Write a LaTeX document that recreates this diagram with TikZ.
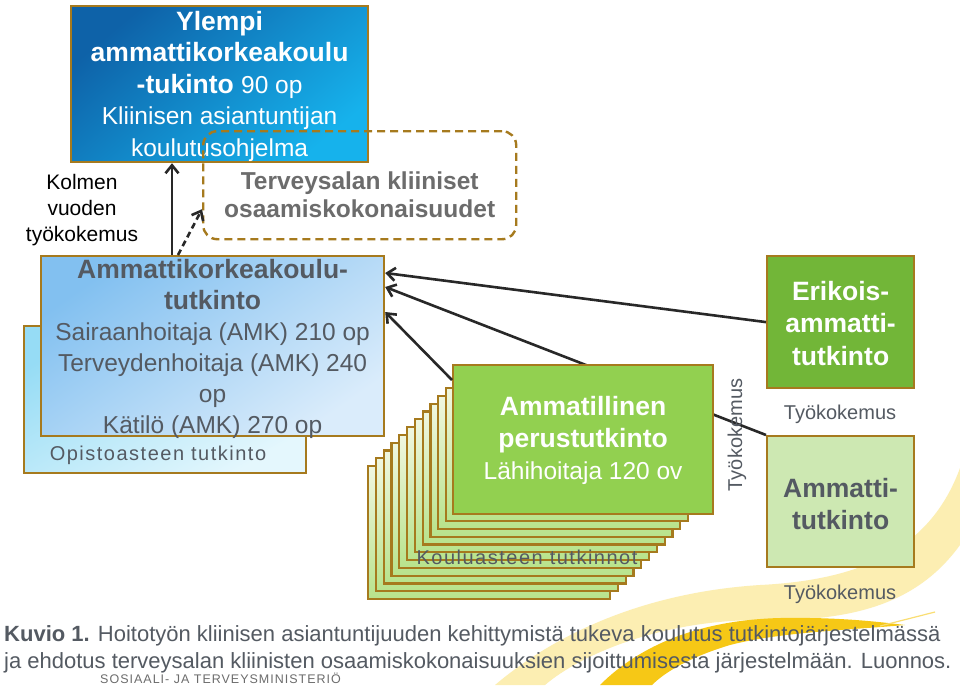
\documentclass[tikz,border=0pt]{standalone}
\usepackage{fontspec}
\setmainfont{Liberation Sans}
\usetikzlibrary{arrows.meta}
\definecolor{cRaja}{RGB}{166,122,30}
\definecolor{cYamkA}{RGB}{14,98,168}
\definecolor{cYamkB}{RGB}{22,178,236}
\definecolor{cOpistoA}{RGB}{150,220,245}
\definecolor{cOpistoB}{RGB}{228,247,253}
\definecolor{cAmkA}{RGB}{130,192,240}
\definecolor{cAmkB}{RGB}{218,236,251}
\definecolor{cKorttiA}{RGB}{240,247,224}
\definecolor{cKorttiB}{RGB}{184,227,140}
\definecolor{cPerus}{RGB}{146,208,80}
\definecolor{cErikois}{RGB}{114,182,56}
\definecolor{cAmmatti}{RGB}{205,232,178}
\definecolor{cTeksti}{RGB}{84,90,98}
\definecolor{cHarmaa}{RGB}{108,108,108}
\definecolor{cNuoli}{RGB}{40,40,40}
\definecolor{cKeltaVaalea}{RGB}{252,238,178}
\definecolor{cKelta}{RGB}{246,200,22}
\newcommand{\fnt}[2]{\fontsize{#1}{#2}\selectfont}
\newcommand{\lihava}{\fnt{26.5}{32}\bfseries}
\newcommand{\normaali}{\fnt{24.5}{32}\mdseries}
\tikzset{
  box/.style={
    rectangle, draw=cRaja, line width=2.2pt,
    anchor=north west, inner sep=0pt,
  },
  kortti/.style={
    box, top color=cKorttiA, bottom color=cKorttiB,
    minimum width=242pt, minimum height=133pt,
  },
  txt/.style={align=center, inner sep=0pt},
  pieni/.style={txt, text=cTeksti, font=\fnt{20}{24}},
  harva/.style={pieni, font=\fnt{20}{24}\addfontfeature{LetterSpace=7.5}},
  arr/.style={-{Straight Barb[length=8pt,width=13pt]}, line width=2.6pt, draw=cNuoli},
}

\begin{document}
\begin{tikzpicture}[x=1pt,y=-1pt]
\useasboundingbox (0,0) rectangle (960,685);
\fill[white] (0,0) rectangle (960,685);

% background swooshes
\fill[cKeltaVaalea] (495,685) .. controls (560,630) and (650,592) .. (760,585)
  .. controls (860,580) and (930,550) .. (960,468) -- (960,545)
  .. controls (920,600) and (860,622) .. (760,620)
  .. controls (660,620) and (580,655) .. (545,685) -- cycle;
\fill[cKelta] (600,685) .. controls (640,645) and (700,620) .. (780,618)
  .. controls (840,617) and (880,622) .. (905,625)
  .. controls (850,630) and (780,632) .. (730,645)
  .. controls (690,657) and (665,672) .. (652,685) -- cycle;
\draw[cKelta!60, line width=1.2pt] (880,626) -- (935,612);

% lower level degrees
\node[box, top color=cOpistoA, bottom color=cOpistoB, shading angle=30,
  minimum width=282pt, minimum height=147pt] (opisto) at (23,325) {};
\node[harva] (opistoteksti) at (158,455) {Opistoasteen tutkinto};

\node[box, top color=cAmkA, bottom color=cAmkB, shading angle=35,
  minimum width=343pt, minimum height=180pt] (amk) at (40,255) {};
\node[txt, text=cTeksti, font=\fnt{24.5}{31}] (amkteksti) at ([yshift=-3pt]amk.center)
  {\lihava Ammattikorkeakoulu-\\
   \lihava tutkinto\\
   Sairaanhoitaja (AMK) 210 op\\
   Terveydenhoitaja (AMK) 240\\
   op\\
   Kätilö (AMK) 270 op};

% master level
\node[box, top color=cYamkA, bottom color=cYamkB, shading angle=40,
  minimum width=297pt, minimum height=156pt] (yamk) at (70,5) {};
\node[txt, text=white, font=\fnt{24.5}{31.5}] (yamkteksti) at ([yshift=-2pt]yamk.center)
  {\lihava Ylempi\\
   \lihava ammattikorkeakoulu\\
   \lihava -tukinto \normaali 90 op\\
   Kliinisen asiantuntijan\\
   koulutusohjelma};

\node[box, dash pattern=on 8pt off 5pt, line width=2.4pt,
  rounded corners=14pt, minimum width=313pt, minimum height=108pt] (osaaminen) at (202,130) {};
\node[txt, text=cHarmaa, font=\fnt{24.5}{28}\bfseries] (osaamisteksti) at ([yshift=-10pt]osaaminen.center)
  {Terveysalan kliiniset\\ osaamiskokonaisuudet};

\node[txt, text=black, font=\fnt{21}{26}] (kolmen) at (82,210)
  {Kolmen\\ vuoden\\ työkokemus};

\coordinate (nuolix) at (172,0);
\coordinate (katkox) at (178,0);
\draw[arr] (amk.north -| nuolix) -- (yamk.south -| nuolix);
\draw[arr, dash pattern=on 6pt off 4pt] (amk.north -| katkox) -- ([yshift=-24pt]osaaminen.west);

% vocational level
\node[box, fill=cAmmatti, minimum width=147pt, minimum height=131pt] (ammatti) at (766,435) {};
\draw[arr] (ammatti.north west) -- ([yshift=-32pt]amk.north east);

\foreach \k in {0,...,10}
  \node[kortti] (kortti\k) at (367+7.8*\k, 465-7.8*\k) {};

\node[box, fill=cPerus, minimum width=260pt, minimum height=149pt] (perus) at (452,364) {};
\node[txt, text=white, font=\fnt{24.5}{32}] (perusteksti) at ([yshift=-1pt]perus.center)
  {\lihava Ammatillinen\\
   \lihava perustutkinto\\
   Lähihoitaja 120 ov};
\node[harva] (kouluaste) at (527,557) {Kouluasteen tutkinnot};
\draw[arr] ([yshift=-16pt]perus.north west) -- ([yshift=-57pt]amk.north east);

\node[box, fill=cErikois, minimum width=147pt, minimum height=132pt] (erikois) at (766,255) {};
\node[txt, text=white, font=\fnt{26.5}{32.5}\bfseries] (erikoisteksti) at ([yshift=-1pt]erikois.center)
  {Erikois-\\ ammatti-\\ tutkinto};
\draw[arr] (erikois.west) -- ([yshift=-18pt]amk.north east);

\node[txt, text=cTeksti, font=\fnt{26.5}{32}\bfseries] (ammattiteksti) at ([yshift=-2.5pt]ammatti.center)
  {Ammatti-\\ tutkinto};

\node[pieni] (tyo1) at (840,414) {Työkokemus};
\node[pieni] (tyo2) at (840,594) {Työkokemus};
\node[pieni, rotate=90] (tyo3) at (737,435) {Työkokemus};

% caption
\node[anchor=base west, align=left, inner sep=0pt, text=cTeksti, font=\fnt{22}{27}] (kuvio) at (4,668)
  {\textbf{Kuvio 1.} Hoitotyön kliinisen asiantuntijuuden kehittymistä tukeva koulutus tutkintojärjestelmässä\\
   ja ehdotus terveysalan kliinisten osaamiskokonaisuuksien sijoittumisesta järjestelmään. Luonnos.};
\node[anchor=base west, inner sep=0pt, text=cHarmaa,
  font=\fnt{12.5}{15}\addfontfeature{LetterSpace=8}] (stm) at (100,683)
  {SOSIAALI- JA TERVEYSMINISTERIÖ};

\end{tikzpicture}
\end{document}
